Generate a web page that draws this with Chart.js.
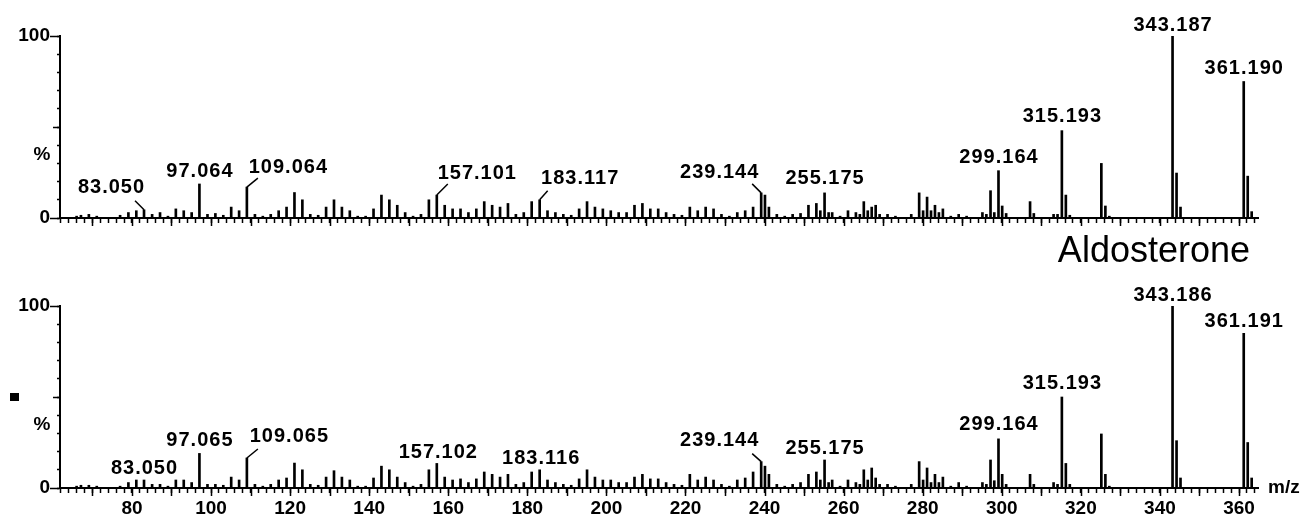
<!DOCTYPE html>
<html><head><meta charset="utf-8">
<script src="https://cdn.jsdelivr.net/npm/chart.js@4.4.0/dist/chart.umd.min.js"></script>
<style>
html,body{margin:0;padding:0;background:#fff;}
#wrap{position:relative;width:1305px;height:516px;overflow:hidden;background:#fff;}
#c1{position:absolute;left:0;top:0;}
#c2{position:absolute;left:0;top:270px;}
</style></head><body>
<div id="wrap"><canvas id="c1" width="1305" height="270"></canvas><canvas id="c2" width="1305" height="246"></canvas></div>
<script>
// ---------- DATA ----------
const xMin = 61.8, xMax = 364.8;
const xTickLabels = [80,100,120,140,160,180,200,220,240,260,280,300,320,340,360];
const yTickLabels = [0,100];
const compoundName = "Aldosterone";
const yTitle = "%";
const xTitle = "m/z";

const topMz = [66.0,67.1,69.1,71.1,77.0,79.1,81.1,83.050,85.1,87.1,89.1,91.1,93.1,95.1,97.064,99.1,101.1,103.1,105.1,107.1,109.064,111.1,113.1,115.1,117.1,119.1,121.1,123.1,125.1,127.1,129.1,131.1,133.1,135.1,137.1,139.1,141.1,143.1,145.1,147.1,149.1,151.1,153.1,155.1,157.101,159.1,161.1,163.1,165.1,167.1,169.1,171.1,173.1,175.1,177.1,179.1,181.1,183.117,185.1,187.1,189.1,191.1,193.1,195.1,197.1,199.1,201.1,203.1,205.1,207.1,209.1,211.1,213.1,215.1,217.1,219.1,221.1,223.1,225.1,227.1,229.1,231.1,233.1,235.1,237.1,239.144,240.1,241.1,243.1,245.1,247.1,249.1,251.1,253.1,254.1,255.175,256.2,257.1,259.1,261.1,263.1,264.1,265.1,266.1,267.1,268.1,269.1,271.1,273.1,277.1,279.1,280.1,281.1,282.1,283.1,284.1,285.1,287.1,289.1,291.1,295.1,296.1,297.15,298.1,299.164,300.1,301.1,307.15,308.1,313.1,314.1,315.193,316.2,317.2,325.18,326.2,327.2,343.187,344.2,345.2,361.190,362.2,363.2];
const topIntensity = [1,1.5,2,1,1.5,3,4,4.5,2,3,1,5,4,3,18.7,2,2.5,1.5,6,4,17,2,1,2,4,6,14,10,2,1.5,6,10,6,4,1,1,5,12.6,10,7,3,1,2,10,12.6,7,5,5,3,5,9,7,6,8,2,3,9,10,4,3,2,1.5,5,9,6,5,4,3,3,7,8,5,5,3,2,1.5,6,4,6,5,2,1,3,4,6,13.8,12.6,6,2,1,2,2.5,7,8,4,13.8,3,3,1,4,3,2,9,4,6,7,2,2,1,2,13.8,4,11.5,4,7,3,5,1,2,1,3,2,15,3,26,6.6,2.5,9,2.5,2,2,48,12.6,1.5,30,6.6,1,100,24.7,6,75,23,3.5];

const bottomMz = [66.0,67.1,69.1,71.1,77.0,79.1,81.1,83.050,85.1,87.1,89.1,91.1,93.1,95.1,97.065,99.1,101.1,103.1,105.1,107.1,109.065,111.1,113.1,115.1,117.1,119.1,121.1,123.1,125.1,127.1,129.1,131.1,133.1,135.1,137.1,139.1,141.1,143.1,145.1,147.1,149.1,151.1,153.1,155.1,157.102,159.1,161.1,163.1,165.1,167.1,169.1,171.1,173.1,175.1,177.1,179.1,181.1,183.116,185.1,187.1,189.1,191.1,193.1,195.1,197.1,199.1,201.1,203.1,205.1,207.1,209.1,211.1,213.1,215.1,217.1,219.1,221.1,223.1,225.1,227.1,229.1,231.1,233.1,235.1,237.1,239.144,240.1,241.1,243.1,245.1,247.1,249.1,251.1,253.1,254.1,255.175,256.2,257.1,259.1,261.1,263.1,264.1,265.1,266.1,267.1,268.1,269.1,271.1,273.1,277.1,279.1,280.1,281.1,282.1,283.1,284.1,285.1,287.1,289.1,291.1,295.1,296.1,297.15,298.1,299.164,300.1,301.1,307.15,308.1,313.1,314.1,315.193,316.2,317.2,325.18,326.2,327.2,343.186,344.2,345.2,361.191,362.2,363.2];
const bottomIntensity = [1,1.5,1.5,1,1,3,4.4,4.4,2,2,1,4.4,4.4,3,19,2,2,1.5,6,4.4,16.5,2,1,2,4.4,5.5,13.7,10,2,1.5,6,9.5,6,4.4,1,1,5.5,12,10,6,3,1,2,10,13.5,6,4.4,5,3,5,8.8,7.5,6,7.5,2,3,8.8,10,4.4,3,2,1.5,5,10,6,4.4,4.4,3,3,6,7.5,5,5,3,2,1.5,7.5,4.4,6,4.4,2,1,4.4,5.5,8.8,14.5,12,7.5,2,1,2,3,7.5,8.8,4.4,15.4,3,4.4,1,4.4,3,2,10,4.4,11,5.5,2,2,1,2,14.5,4.4,11,3,7.5,3,6,1,3,1,3,2,15.4,4,27,7.5,2,7.5,2,3,2,50,13.5,2,29.7,7.5,1,100,26,5.5,85,25,5.5];

const topLabelMz = [83.050,97.064,109.064,157.101,183.117,239.144,255.175,299.164,315.193,343.187,361.190];
const bottomLabelMz = [83.050,97.065,109.065,157.102,183.116,239.144,255.175,299.164,315.193,343.186,361.191];

// ---------- STYLE (label placement relative to peak tip: [textDx, textDy, leaderDx, leaderDy]) ----------
const topLabelOffsets = [[-33,-22,-9,-9],[0,-12,0,0],[41,-20,11,-9],[40,-22,11,-11],[40,-21,8,-9],[-42,-20,-9,-9],[0,-14,0,0],[0,-13,0,0],[0,-14,0,0],[0,-11,0,0],[0,-13,0,0]];
const bottomLabelOffsets = [[0,-12,0,0],[0,-13,0,0],[42,-21,11,-9],[1,-11,0,0],[1,-11,0,0],[-42,-21,-9,-8],[0,-11,0,0],[0,-14,0,0],[0,-14,0,0],[0,-11,0,0],[0,-12,0,0]];

const FONT = '"Liberation Sans", Arial, Helvetica, sans-serif';

function annotPlugin(labelMz, offsets, mz, inten, isTop) {
  return {
    id: 'annot',
    afterDraw(chart) {
      const ctx = chart.ctx, xs = chart.scales.x, ys = chart.scales.y;
      const y0 = ys.getPixelForValue(0);
      const xl = xs.left;
      ctx.save();
      ctx.strokeStyle = '#000'; ctx.fillStyle = '#000'; ctx.lineWidth = 1.5;
      // longer x ticks every 10
      ctx.beginPath();
      for (let v = Math.ceil(xs.min / 10) * 10; v <= xs.max; v += 10) {
        const px = Math.round(xs.getPixelForValue(v)) + 0.5;
        ctx.moveTo(px, y0); ctx.lineTo(px, y0 + 8);
      }
      // longer y ticks
      [[0,10],[50,7],[100,10]].forEach(([v,l]) => {
        const py = Math.round(ys.getPixelForValue(v)) + 0.5;
        ctx.moveTo(xl, py); ctx.lineTo(xl - l, py);
      });
      ctx.stroke();
      // y title
      ctx.font = 'bold 19px ' + FONT;
      ctx.textAlign = 'center'; ctx.textBaseline = 'middle';
      ctx.fillText(yTitle, 42, ys.getPixelForValue(35));
      // peak labels
      ctx.font = 'bold 20px ' + FONT;
      ctx.letterSpacing = '1px';
      labelMz.forEach((m, i) => {
        const idx = mz.indexOf(m);
        const px = xs.getPixelForValue(m);
        const py = ys.getPixelForValue(inten[idx]);
        const [tdx, tdy, ldx, ldy] = offsets[i];
        if (ldx !== 0 || ldy !== 0) {
          ctx.beginPath(); ctx.lineWidth = 1.5;
          ctx.moveTo(px, py); ctx.lineTo(px + ldx, py + ldy); ctx.stroke();
        }
        ctx.fillText(m.toFixed(3), px + tdx + 0.5, py + tdy);
      });
      ctx.letterSpacing = '0px';
      if (isTop) {
        ctx.font = '36px ' + FONT;
        ctx.textAlign = 'right'; ctx.textBaseline = 'alphabetic';
        ctx.fillText(compoundName, 1250, 262);
      } else {
        ctx.font = 'bold 19px ' + FONT;
        ctx.textAlign = 'left'; ctx.textBaseline = 'middle';
        ctx.fillText(xTitle, 1268, y0);
        ctx.fillRect(10, 123, 9, 8);
      }
      ctx.restore();
    }
  };
}

function makeChart(canvasId, mz, inten, labelMz, offsets, isTop) {
  const canvas = document.getElementById(canvasId);
  const axisH = canvas.height - 218;
  return new Chart(canvas, {
    type: 'bar',
    data: { datasets: [{ data: mz.map((m, i) => ({ x: m, y: inten[i] })), backgroundColor: '#000', borderWidth: 0, barThickness: 2 }] },
    options: {
      responsive: false, animation: false, devicePixelRatio: 1,
      layout: { padding: { top: 36, right: 47, left: 0, bottom: 0 } },
      plugins: { legend: { display: false }, tooltip: { enabled: false } },
      scales: {
        x: {
          type: 'linear', min: xMin, max: xMax, offset: false,
          border: { display: true, color: '#000', width: 2 },
          grid: { display: true, drawOnChartArea: false, drawTicks: true, tickLength: 5, tickColor: '#000', tickWidth: 1.5, offset: false },
          ticks: {
            stepSize: 2, autoSkip: false, maxRotation: 0, minRotation: 0, includeBounds: false,
            color: '#000', padding: 4, font: { family: FONT, size: 19, weight: 'bold' },
            callback: (v) => {
              const r = Math.round(v);
              return (!isTop && Math.abs(v - r) < 1e-6 && xTickLabels.includes(r)) ? String(r) : '';
            }
          },
          afterFit: (s) => { s.height = axisH; }
        },
        y: {
          min: 0, max: 100,
          border: { display: true, color: '#000', width: 2 },
          grid: { display: true, drawOnChartArea: false, drawTicks: true, tickLength: 3, tickColor: '#000', tickWidth: 1.5 },
          ticks: {
            stepSize: 10, autoSkip: false, color: '#000', padding: 7,
            font: { family: FONT, size: 19, weight: 'bold' },
            callback: (v) => yTickLabels.includes(v) ? String(v) : ''
          },
          afterFit: (s) => { s.width = 60; }
        }
      }
    },
    plugins: [annotPlugin(labelMz, offsets, mz, inten, isTop)]
  });
}

makeChart('c1', topMz, topIntensity, topLabelMz, topLabelOffsets, true);
makeChart('c2', bottomMz, bottomIntensity, bottomLabelMz, bottomLabelOffsets, false);
</script>
</body></html>
